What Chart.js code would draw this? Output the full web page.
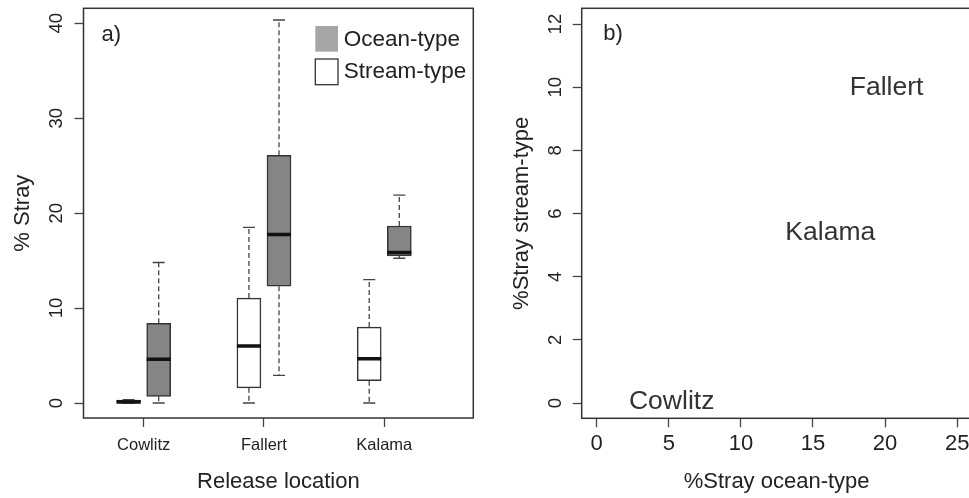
<!DOCTYPE html>
<html>
<head>
<meta charset="utf-8">
<script src="https://cdn.jsdelivr.net/npm/chart.js@4"></script>
<style>
  html, body { margin: 0; padding: 0; background: #fff; overflow: hidden; }
  #panelA { position: absolute; left: 0; top: 0; }
  #panelB { position: absolute; left: 490px; top: 0; }
</style>
</head>
<body>
<canvas id="panelA" width="490" height="498"></canvas>
<canvas id="panelB" width="490" height="498"></canvas>
<script>
// release sites
const sites = ['Cowlitz', 'Fallert', 'Kalama'];
// five-number summaries per site: [min, q1, median, q3, max] (% stray)
const streamStats = [
  [0, 0, 0.1, 0.3, 0.35],
  [0, 1.6, 6.0, 11.05, 18.5],
  [0, 2.35, 4.65, 8.0, 13.0]
];
const oceanStats = [
  [0, 0.7, 4.6, 8.4, 14.8],
  [2.9, 12.3, 17.75, 26.1, 40.35],
  [15.25, 15.5, 15.85, 18.65, 21.9]
];
const legendNames = ['Ocean-type', 'Stream-type'];
const strayTicks = [0, 10, 20, 30, 40];

// panel b: site label positions (% stray ocean-type vs stream-type)
const siteOceanPct = [5.2, 20.1, 16.2];
const siteStreamPct = [0.05, 10.0, 5.4];
const oceanTicks = [0, 5, 10, 15, 20, 25];
const streamTicks = [0, 2, 4, 6, 8, 10, 12];

const FONT = '"Liberation Sans", Arial, Helvetica, sans-serif';
const INK = '#222';
const EDGE = '#333';
const OCEAN_FILL = '#858585';

// box offsets around each site position
const SHIFT = 0.125, HALF = 0.1, CAP = 0.05;

function boxes(stats, dir) {
  return stats.map((s, i) => ({ x: i + 1 + dir * SHIFT, y: [s[1], s[3]] }));
}
function whiskers(stats, dir) {
  const pts = [];
  stats.forEach((s, i) => {
    const x = i + 1 + dir * SHIFT;
    pts.push({ x, y: s[3] }, { x, y: s[4] }, { x, y: null });
    pts.push({ x, y: s[1] }, { x, y: s[0] }, { x, y: null });
  });
  return pts;
}
function caps(stats, dir) {
  const pts = [];
  stats.forEach((s, i) => {
    const x = i + 1 + dir * SHIFT;
    [s[0], s[4]].forEach(v => {
      pts.push({ x: x - CAP, y: v }, { x: x + CAP, y: v }, { x, y: null });
    });
  });
  return pts;
}
function medians(stats, dir) {
  const pts = [];
  stats.forEach((s, i) => {
    const x = i + 1 + dir * SHIFT;
    pts.push({ x: x - HALF, y: s[2] }, { x: x + HALF, y: s[2] }, { x, y: null });
  });
  return pts;
}

const segLine = (data, extra) => Object.assign({
  type: 'line', data, pointRadius: 0, spanGaps: false, fill: false,
  borderColor: EDGE, borderWidth: 1.3, tension: 0
}, extra);

// frame, panel tag, legend and text labels
const decor = {
  id: 'decor',
  afterDatasetsDraw(chart, args, opts) {
    const { ctx, chartArea: a } = chart;
    ctx.save();
    ctx.strokeStyle = EDGE;
    ctx.lineWidth = 1.5;
    ctx.strokeRect(a.left, a.top, a.right - a.left, a.bottom - a.top);
    ctx.fillStyle = INK;
    ctx.textBaseline = 'middle';
    ctx.textAlign = 'left';
    ctx.font = '22px ' + FONT;
    ctx.fillText(opts.tag, a.left + opts.tagDx, a.top + opts.tagDy);
    if (opts.legend) {
      const sx = a.right - 158, sw = 22.7, sh = 25.7;
      ctx.fillStyle = '#a6a6a6';
      ctx.fillRect(sx, a.top + 17.7, sw, sh);
      ctx.fillStyle = '#fff';
      ctx.fillRect(sx, a.top + 50.7, sw, sh);
      ctx.lineWidth = 1.3;
      ctx.strokeRect(sx, a.top + 50.7, sw, sh);
      ctx.fillStyle = INK;
      ctx.font = '22.5px ' + FONT;
      ctx.fillText(legendNames[0], a.right - 129.5, a.top + 31);
      ctx.fillText(legendNames[1], a.right - 129.5, a.top + 63.5);
    }
    if (opts.pointLabels) {
      const meta = chart.getDatasetMeta(0);
      ctx.fillStyle = '#333';
      ctx.textAlign = 'center';
      ctx.font = '26.5px ' + FONT;
      meta.data.forEach((el, i) => ctx.fillText(sites[i], el.x, el.y));
    }
    ctx.restore();
  }
};

const tickGrid = { display: true, offset: false, drawOnChartArea: false, drawTicks: true, tickLength: 9, tickColor: '#444', tickWidth: 1.3 };

// keep the plot frame where the reference has it: no label overhang padding
function noOverhang(s) {
  s.paddingTop = 0; s.paddingBottom = 0; s.paddingLeft = 0; s.paddingRight = 0;
}

function yAxis(min, max, ticks, title, titlePad, width) {
  return {
    type: 'linear', position: 'left', min, max,
    afterBuildTicks: s => { s.ticks = ticks.map(v => ({ value: v })); },
    afterFit: s => { s.width = width; noOverhang(s); },
    grid: tickGrid,
    border: { display: false },
    ticks: { minRotation: 90, maxRotation: 90, crossAlign: 'center', padding: 7, color: INK, font: { family: FONT, size: 18.5 } },
    title: { display: true, text: title, color: INK, font: { family: FONT, size: 22 }, padding: { top: titlePad, bottom: 0 } }
  };
}
function xAxis(min, max, ticks, labelFn, size, pad, title, height) {
  return {
    type: 'linear', position: 'bottom', min, max, offset: false,
    afterBuildTicks: s => { s.ticks = ticks.map(v => ({ value: v })); },
    afterFit: s => { s.height = height; noOverhang(s); },
    grid: tickGrid,
    border: { display: false },
    ticks: { callback: labelFn, autoSkip: false, maxRotation: 0, padding: pad, color: INK, font: { family: FONT, size } },
    title: { display: true, text: title, color: INK, font: { family: FONT, size: 22 }, padding: { top: 0, bottom: 3 } }
  };
}

const common = {
  responsive: false,
  animation: false,
  events: [],
  plugins: { legend: { display: false }, tooltip: { enabled: false } }
};

new Chart(document.getElementById('panelA'), {
  type: 'bar',
  data: {
    datasets: [
      segLine(medians(oceanStats, 1).concat(medians(streamStats, -1)), { borderColor: '#111', borderWidth: 3.5, order: 0 }),
      { type: 'bar', label: legendNames[0], data: boxes(oceanStats, 1), backgroundColor: OCEAN_FILL,
        borderColor: EDGE, borderWidth: 1.5, borderSkipped: false, barThickness: 24, grouped: false, order: 1 },
      { type: 'bar', label: legendNames[1], data: boxes(streamStats, -1), backgroundColor: '#fff',
        borderColor: EDGE, borderWidth: 1.5, borderSkipped: false, barThickness: 24, grouped: false, order: 1 },
      segLine(whiskers(oceanStats, 1).concat(whiskers(streamStats, -1)), { borderDash: [5, 3], borderColor: '#444', order: 2 }),
      segLine(caps(oceanStats, 1).concat(caps(streamStats, -1)), { borderColor: '#444', order: 2 })
    ]
  },
  options: Object.assign({}, common, {
    layout: { padding: { left: 0, top: 8.3, right: 16.7, bottom: 0 } },
    scales: {
      x: xAxis(0.5, 3.74, [1, 2, 3], v => sites[v - 1], 16.5, 9, 'Release location', 80),
      y: yAxis(-1.58, 41.58, strayTicks, '% Stray', 10, 83.5)
    },
    plugins: Object.assign({}, common.plugins, {
      decor: { tag: 'a)', tagDx: 18, tagDy: 27, legend: true }
    })
  }),
  plugins: [decor]
});

new Chart(document.getElementById('panelB'), {
  type: 'scatter',
  data: {
    datasets: [{
      label: 'sites',
      data: sites.map((s, i) => ({ x: siteOceanPct[i], y: siteStreamPct[i] })),
      pointRadius: 0
    }]
  },
  options: Object.assign({}, common, {
    layout: { padding: { left: 0, top: 8.3, right: 8.4, bottom: 0 } },
    scales: {
      x: xAxis(-1.04, 26, oceanTicks, v => String(v), 22, 3, '%Stray ocean-type', 79.7),
      y: yAxis(-0.48, 12.5, streamTicks, '%Stray stream-type', 19, 91.7)
    },
    plugins: Object.assign({}, common.plugins, {
      decor: { tag: 'b)', tagDx: 21.6, tagDy: 26, pointLabels: true }
    })
  }),
  plugins: [decor]
});
</script>
</body>
</html>
